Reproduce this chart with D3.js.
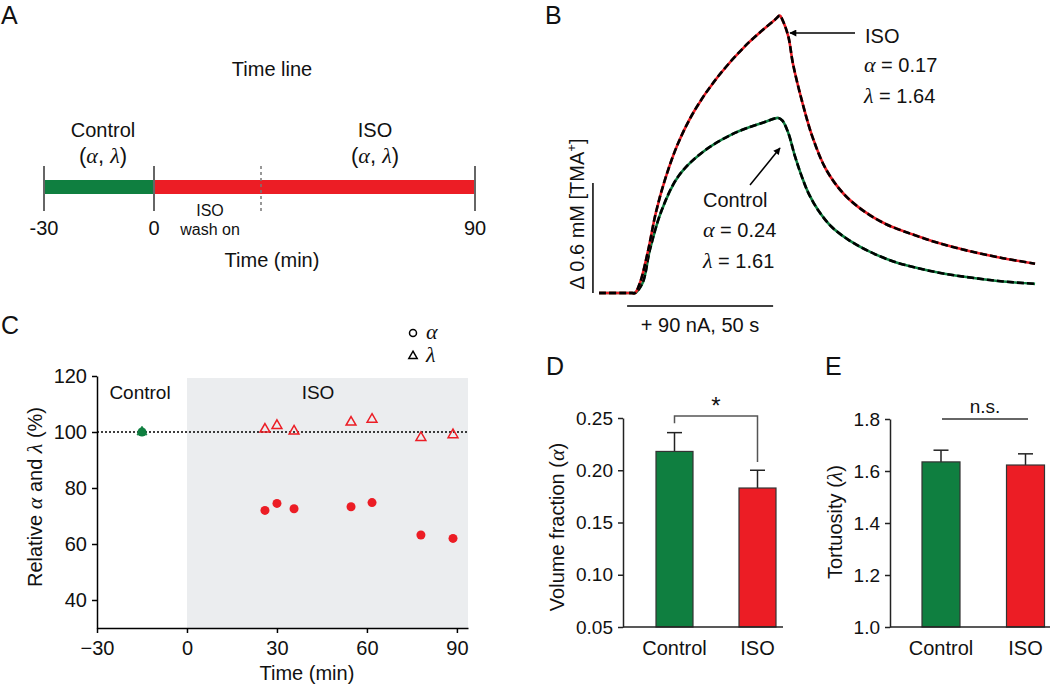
<!DOCTYPE html>
<html><head><meta charset="utf-8">
<script src="https://cdn.jsdelivr.net/npm/d3@7"></script>
<style>
body{margin:0;background:#fff;}
text{font-family:"Liberation Sans",Arial,Helvetica,sans-serif;fill:#111;}
.gr{font-family:"Liberation Serif","Times New Roman",serif;font-style:italic;}
</style></head>
<body>
<svg id="fig" width="1050" height="686"></svg>
<script>
// ---------- DATA ----------
const green = "#0f7f40", red = "#ec1d25";
// Panel A: timeline
const timelineTicks = [-30, 0, 90];
const controlPeriod = [-30, 0];
const isoPeriod = [0, 90];
const washLine = 30;
// Panel B: TMA+ diffusion curves (time s, concentration mM)
const isoT = [-12.3,-1,0,1.7,4.55,7.1,10.3,14.8,20.5,28.5,38.8,47.9,49.6,50.5,52.5,54.1,57.3,60.8,65.4,71.5,78.5,86,95,103.4,114.7,126,137];
const isoC = [0,0,0,0.055,0.236,0.435,0.62,0.818,0.998,1.182,1.364,1.49,1.513,1.49,1.40,1.25,1.04,0.85,0.675,0.54,0.445,0.375,0.32,0.275,0.228,0.19,0.16];
const ctlT = [-12.3,-1,0,2.6,5.1,9.1,14.8,22.8,34.2,44,49.1,50.5,52.5,54.8,57.1,59.4,62.8,67.4,73.1,80,88.5,97,106,116,126,137];
const ctlC = [0,0,0,0.055,0.236,0.45,0.636,0.764,0.873,0.93,0.955,0.94,0.873,0.745,0.636,0.545,0.45,0.36,0.29,0.228,0.172,0.135,0.105,0.082,0.063,0.05];
const scaleBarC = [0, 0.6];
const stimBarT = [-2.7, 47.3];
// Panel C: relative alpha / lambda over time
const ctlTime = [-15];
const ctlAlpha = [100];
const ctlLambda = [100];
const isoTime = [26, 30, 35.7, 54.7, 61.7, 78, 88.7];
const isoAlpha = [72, 74.5, 72.6, 73.3, 74.8, 63.2, 62];
const isoLambda = [101, 102.3, 100.3, 103.5, 104.5, 98, 99];
const cXTicks = [-30, 0, 30, 60, 90];
const cYTicks = [40, 60, 80, 100, 120];
// Panel D / E: bars
const groups = ["Control", "ISO"];
const alphaMean = [0.218, 0.183];
const alphaSem = [0.018, 0.017];
const lambdaMean = [1.635, 1.623];
const lambdaSem = [0.045, 0.043];
const dTicks = [0.05, 0.10, 0.15, 0.20, 0.25];
const eTicks = [1.0, 1.2, 1.4, 1.6, 1.8];

const svg = d3.select("#fig");
function label(t, x, y){ svg.append("text").attr("x", x).attr("y", y).attr("font-size", 25).text(t); }

// ---------- Panel A ----------
label("A", 1, 24);
const xa = d3.scaleLinear().domain([-30, 0, 90]).range([44, 154, 475]);
const gA = svg.append("g");
gA.append("text").attr("x", 272).attr("y", 76).attr("text-anchor", "middle").attr("font-size", 20).text("Time line");
gA.append("rect").attr("x", xa(controlPeriod[0])).attr("y", 180).attr("width", xa(controlPeriod[1]) - xa(controlPeriod[0])).attr("height", 14).attr("fill", green);
gA.append("rect").attr("x", xa(isoPeriod[0])).attr("y", 180).attr("width", xa(isoPeriod[1]) - xa(isoPeriod[0])).attr("height", 14).attr("fill", red);
gA.selectAll("line.tk").data(timelineTicks).join("line").attr("class", "tk")
  .attr("x1", d => xa(d)).attr("x2", d => xa(d)).attr("y1", 166).attr("y2", 211).attr("stroke", "#666").attr("stroke-width", 2);
gA.append("line").attr("x1", xa(washLine)).attr("x2", xa(washLine)).attr("y1", 166).attr("y2", 212).attr("stroke", "#777").attr("stroke-width", 1.5).attr("stroke-dasharray", "3,3");
gA.selectAll("text.tl").data(timelineTicks).join("text").attr("class", "tl")
  .attr("x", d => xa(d)).attr("y", 235).attr("text-anchor", "middle").attr("font-size", 20).text(d => d);
gA.append("text").attr("x", 272).attr("y", 267).attr("text-anchor", "middle").attr("font-size", 20).text("Time (min)");
gA.append("text").attr("x", 210).attr("y", 216).attr("text-anchor", "middle").attr("font-size", 16).text("ISO");
gA.append("text").attr("x", 210).attr("y", 235).attr("text-anchor", "middle").attr("font-size", 16).text("wash on");
function condLabel(g, name, x){
  g.append("text").attr("x", x).attr("y", 137).attr("text-anchor", "middle").attr("font-size", 20).text(name);
  const t = g.append("text").attr("x", x).attr("y", 163).attr("text-anchor", "middle").attr("font-size", 22);
  t.append("tspan").text("(");
  t.append("tspan").attr("class", "gr").text("α");
  t.append("tspan").text(", ");
  t.append("tspan").attr("class", "gr").text("λ");
  t.append("tspan").text(")");
}
condLabel(gA, "Control", 103);
condLabel(gA, "ISO", 375);

// ---------- Panel B ----------
label("B", 545, 24);
const xb = d3.scaleLinear().domain([0, 50]).range([635, 781]);
const yb = d3.scaleLinear().domain([0, 0.6]).range([293, 183]);
const gB = svg.append("g");
const lineB = d3.line().x(d => xb(d[0])).y(d => yb(d[1])).curve(d3.curveCatmullRom.alpha(0.5));
const isoPts = isoT.map((t, i) => [t, isoC[i]]);
const ctlPts = ctlT.map((t, i) => [t, ctlC[i]]);
[[ctlPts, green], [isoPts, red]].forEach(([pts, col]) => {
  gB.append("path").attr("d", lineB(pts)).attr("fill", "none").attr("stroke", col).attr("stroke-width", 2.6);
  gB.append("path").attr("d", lineB(pts)).attr("fill", "none").attr("stroke", "#000").attr("stroke-width", 2.6).attr("stroke-dasharray", "7,3");
});
// scale bars
gB.append("line").attr("x1", xb(-14.4)).attr("x2", xb(-14.4)).attr("y1", yb(scaleBarC[0])).attr("y2", yb(scaleBarC[1])).attr("stroke", "#000").attr("stroke-width", 1.5);
gB.append("line").attr("x1", xb(stimBarT[0])).attr("x2", xb(stimBarT[1])).attr("y1", 306).attr("y2", 306).attr("stroke", "#000").attr("stroke-width", 1.5);
gB.append("text").attr("x", 700).attr("y", 332).attr("text-anchor", "middle").attr("font-size", 20).text("+ 90 nA, 50 s");
const sbl = gB.append("text").attr("transform", "translate(584,214) rotate(-90)").attr("text-anchor", "middle").attr("font-size", 20);
sbl.append("tspan").text("Δ 0.6 mM [TMA");
sbl.append("tspan").attr("font-size", 13).attr("dy", -8).text("+");
sbl.append("tspan").attr("dy", 8).text("]");
// arrows
const defs = svg.append("defs");
defs.append("marker").attr("id", "ah").attr("viewBox", "0 0 10 10").attr("refX", 9).attr("refY", 5)
  .attr("markerWidth", 9).attr("markerHeight", 7).attr("markerUnits", "userSpaceOnUse").attr("orient", "auto")
  .append("path").attr("d", "M0,0 L10,5 L0,10 Z").attr("fill", "#000");
gB.append("line").attr("x1", 855).attr("y1", 33).attr("x2", 790).attr("y2", 33).attr("stroke", "#000").attr("stroke-width", 1.5).attr("marker-end", "url(#ah)");
gB.append("line").attr("x1", 750).attr("y1", 185).attr("x2", 780).attr("y2", 148).attr("stroke", "#000").attr("stroke-width", 1.5).attr("marker-end", "url(#ah)");
function eqText(g, sym, val, x, y){
  const t = g.append("text").attr("x", x).attr("y", y).attr("font-size", 20);
  t.append("tspan").attr("class", "gr").attr("font-size", 22).text(sym);
  t.append("tspan").text(" = " + val);
}
gB.append("text").attr("x", 865).attr("y", 43).attr("font-size", 20).text("ISO");
eqText(gB, "α", "0.17", 864, 72);
eqText(gB, "λ", "1.64", 864, 103);
gB.append("text").attr("x", 703).attr("y", 207).attr("font-size", 20).text("Control");
eqText(gB, "α", "0.24", 703, 237);
eqText(gB, "λ", "1.61", 703, 268);

// ---------- Panel C ----------
label("C", 1, 334);
const xc = d3.scaleLinear().domain([-30, 93.7]).range([97, 468]);
const yc = d3.scaleLinear().domain([30, 120]).range([628, 376]);
const gC = svg.append("g");
gC.append("rect").attr("x", xc(0)).attr("y", yc(119.3)).attr("width", xc(93.7) - xc(0)).attr("height", yc(30) - yc(119.3)).attr("fill", "#ebedef");
gC.append("line").attr("x1", xc(-30)).attr("x2", xc(93.7)).attr("y1", yc(100)).attr("y2", yc(100)).attr("stroke", "#000").attr("stroke-width", 1.5).attr("stroke-dasharray", "2,2");
const axC = gC.append("g").attr("transform", `translate(0,${yc(30)})`).call(d3.axisBottom(xc).tickValues(cXTicks).tickSize(5).tickSizeOuter(0));
const ayC = gC.append("g").attr("transform", `translate(${xc(-30)},0)`).call(d3.axisLeft(yc).tickValues(cYTicks).tickSize(5).tickSizeOuter(0));
[axC, ayC].forEach(a => { a.selectAll("path,line").attr("stroke", "#000").attr("stroke-width", 1.5); a.selectAll("text").attr("font-size", 20).attr("font-family", "Liberation Sans, Arial, sans-serif").attr("fill", "#111"); });
axC.selectAll("text").attr("dy", "0.95em");
ayC.selectAll("text").attr("dx", "-2");
gC.append("text").attr("x", xc(40)).attr("y", 680).attr("text-anchor", "middle").attr("font-size", 20).text("Time (min)");
const ycl = gC.append("text").attr("transform", "translate(42,497) rotate(-90)").attr("text-anchor", "middle").attr("font-size", 20);
ycl.append("tspan").text("Relative ");
ycl.append("tspan").attr("class", "gr").attr("font-size", 22).text("α");
ycl.append("tspan").text(" and ");
ycl.append("tspan").attr("class", "gr").attr("font-size", 22).text("λ");
ycl.append("tspan").text(" (%)");
gC.append("text").attr("x", 140).attr("y", 399).attr("text-anchor", "middle").attr("font-size", 19).text("Control");
gC.append("text").attr("x", 318).attr("y", 399).attr("text-anchor", "middle").attr("font-size", 19).text("ISO");
const tri = d3.symbol(d3.symbolTriangle, 42);
// control point
gC.selectAll("circle.ca").data(ctlTime).join("circle").attr("class", "ca")
  .attr("cx", d => xc(d)).attr("cy", (d, i) => yc(ctlAlpha[i])).attr("r", 4.5).attr("fill", green);
gC.selectAll("path.cl").data(ctlTime).join("path").attr("class", "cl")
  .attr("d", tri).attr("transform", (d, i) => `translate(${xc(d)},${yc(ctlLambda[i])})`).attr("fill", green).attr("stroke", green);
// ISO points
gC.selectAll("circle.ia").data(isoTime).join("circle").attr("class", "ia")
  .attr("cx", d => xc(d)).attr("cy", (d, i) => yc(isoAlpha[i])).attr("r", 4.5).attr("fill", red);
gC.selectAll("path.il").data(isoTime).join("path").attr("class", "il")
  .attr("d", tri).attr("transform", (d, i) => `translate(${xc(d)},${yc(isoLambda[i])})`).attr("fill", "none").attr("stroke", red).attr("stroke-width", 1.5);
// legend
gC.append("circle").attr("cx", 413).attr("cy", 333).attr("r", 3.5).attr("fill", "none").attr("stroke", "#000").attr("stroke-width", 1.5);
gC.append("text").attr("class", "gr").attr("x", 426).attr("y", 339).attr("font-size", 22).text("α");
gC.append("path").attr("d", d3.symbol(d3.symbolTriangle, 30)).attr("transform", "translate(413,356)").attr("fill", "none").attr("stroke", "#000").attr("stroke-width", 1.5);
gC.append("text").attr("class", "gr").attr("x", 426).attr("y", 362).attr("font-size", 22).text("λ");

// ---------- Bar panels ----------
function barPanel(opts){
  const g = svg.append("g");
  const y = d3.scaleLinear().domain(opts.domain).range([627, opts.top]);
  const x = d3.scalePoint().domain(groups).range(opts.centers);
  const w = opts.bw;
  g.selectAll("line.err").data(groups).join("line").attr("class", "err")
    .attr("x1", d => x(d)).attr("x2", d => x(d)).attr("y1", (d, i) => y(opts.mean[i])).attr("y2", (d, i) => y(opts.mean[i] + opts.sem[i])).attr("stroke", "#222").attr("stroke-width", 1.5);
  g.selectAll("line.cap").data(groups).join("line").attr("class", "cap")
    .attr("x1", d => x(d) - 7.5).attr("x2", d => x(d) + 7.5).attr("y1", (d, i) => y(opts.mean[i] + opts.sem[i])).attr("y2", (d, i) => y(opts.mean[i] + opts.sem[i])).attr("stroke", "#222").attr("stroke-width", 1.5);
  g.selectAll("rect.bar").data(groups).join("rect").attr("class", "bar")
    .attr("x", d => x(d) - w / 2).attr("width", w).attr("y", (d, i) => y(opts.mean[i])).attr("height", (d, i) => y(opts.domain[0]) - y(opts.mean[i]))
    .attr("fill", (d, i) => i ? red : green).attr("stroke", "#333").attr("stroke-width", 1.2);
  const ay = g.append("g").attr("transform", `translate(${opts.axisX},0)`).call(d3.axisLeft(y).tickValues(opts.ticks).tickFormat(d3.format(opts.fmt)).tickSize(5).tickSizeOuter(0));
  ay.selectAll("path,line").attr("stroke", "#222").attr("stroke-width", 1.5);
  ay.selectAll("text").attr("font-size", 19).attr("font-family", "Liberation Sans, Arial, sans-serif").attr("fill", "#111").attr("dx", "-2");
  g.append("line").attr("x1", opts.axisX).attr("x2", opts.axisEnd).attr("y1", y(opts.domain[0])).attr("y2", y(opts.domain[0])).attr("stroke", "#222").attr("stroke-width", 1.5);
  g.selectAll("text.cat").data(groups).join("text").attr("class", "cat")
    .attr("x", d => x(d)).attr("y", 655).attr("text-anchor", "middle").attr("font-size", 20).text(d => d);
  const yl = g.append("text").attr("transform", `translate(${opts.labelX},${opts.labelY}) rotate(-90)`).attr("text-anchor", "middle").attr("font-size", 20);
  yl.append("tspan").text(opts.ylab + " (");
  yl.append("tspan").attr("class", "gr").attr("font-size", 22).text(opts.sym);
  yl.append("tspan").text(")");
  return {g, x, y};
}
label("D", 546, 375);
const D = barPanel({domain: [0.05, 0.25], top: 418, centers: [674.5, 757.5], bw: 37, mean: alphaMean, sem: alphaSem,
  ticks: dTicks, fmt: ".2f", axisX: 623, axisEnd: 783, labelX: 564, labelY: 527, ylab: "Volume fraction", sym: "α"});
D.g.append("path").attr("d", `M${D.x("Control")},${D.y(0.245)}V${D.y(0.252)}H${D.x("ISO")}V${D.y(0.208)}`)
  .attr("fill", "none").attr("stroke", "#555").attr("stroke-width", 1.5);
D.g.append("text").attr("x", (D.x("Control") + D.x("ISO")) / 2).attr("y", 414).attr("text-anchor", "middle").attr("font-size", 24).text("*");

label("E", 825, 375);
const E = barPanel({domain: [1.0, 1.8], top: 419, centers: [941, 1025.5], bw: 38, mean: lambdaMean, sem: lambdaSem,
  ticks: eTicks, fmt: ".1f", axisX: 890, axisEnd: 1050, labelX: 842, labelY: 522, ylab: "Tortuosity", sym: "λ"});
E.g.append("line").attr("x1", 942).attr("x2", 1028).attr("y1", E.y(1.8)).attr("y2", E.y(1.8)).attr("stroke", "#333").attr("stroke-width", 1.5);
E.g.append("text").attr("x", 985).attr("y", 413).attr("text-anchor", "middle").attr("font-size", 19).text("n.s.");
</script>
</body></html>
